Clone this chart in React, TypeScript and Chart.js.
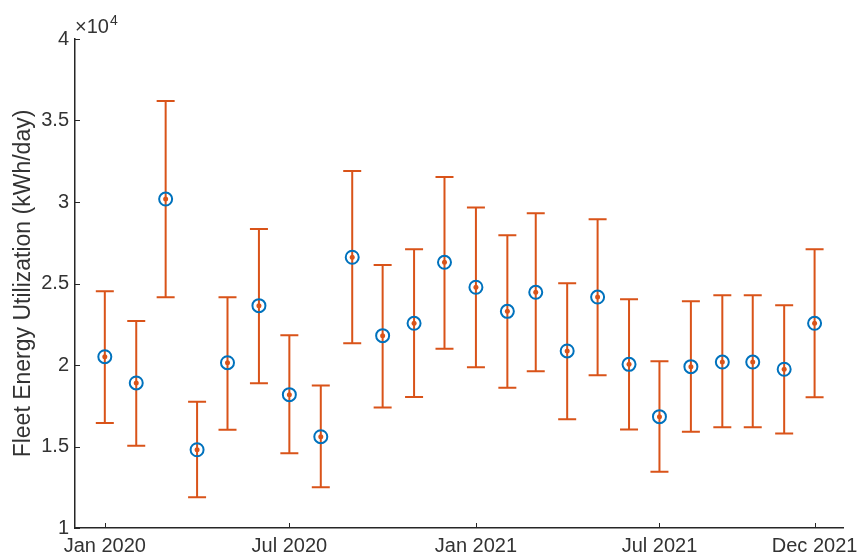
import React, { useEffect, useRef } from "react";
import { Chart, registerables } from "chart.js";

Chart.register(...registerables);

// ---- data ----
const monthDates = [
  "2020-01-01", "2020-02-01", "2020-03-01", "2020-04-01", "2020-05-01", "2020-06-01",
  "2020-07-01", "2020-08-01", "2020-09-01", "2020-10-01", "2020-11-01", "2020-12-01",
  "2021-01-01", "2021-02-01", "2021-03-01", "2021-04-01", "2021-05-01", "2021-06-01",
  "2021-07-01", "2021-08-01", "2021-09-01", "2021-10-01", "2021-11-01", "2021-12-01",
];
const energy = [
  20510, 18900, 30180, 14800, 20140, 23640, 18180, 15600, 26610, 21800, 22560, 26300,
  24770, 23290, 24460, 20860, 24170, 20040, 16830, 19900, 20180, 20180, 19740, 22560,
];
const upper = [
  24520, 22700, 36200, 17750, 24150, 28340, 21820, 18750, 31900, 26130, 27100, 31530,
  29670, 27960, 29310, 25010, 28940, 24030, 20230, 23910, 24280, 24280, 23660, 27100,
];
const lower = [
  16440, 15050, 24150, 11880, 16030, 18880, 14580, 12500, 21330, 17400, 18040, 21000,
  19860, 18610, 19610, 16670, 19370, 16050, 13450, 15910, 16180, 16180, 15790, 18020,
];
const xTickDates = ["2020-01-01", "2020-07-01", "2021-01-01", "2021-07-01", "2021-12-01"];
const xTickLabels = ["Jan 2020", "Jul 2020", "Jan 2021", "Jul 2021", "Dec 2021"];
const yTickValues = [10000, 15000, 20000, 25000, 30000, 35000, 40000];
const yTickLabels = ["1", "1.5", "2", "2.5", "3", "3.5", "4"];
const yTitle = "Fleet Energy Utilization (kWh/day)";

const ORIGIN = Date.UTC(2020, 0, 1);
const toDay = (s: string) => {
  const [y, m, d] = s.split("-").map(Number);
  return (Date.UTC(y, m - 1, d) - ORIGIN) / 864e5;
};

const FONT = '"Liberation Sans", Arial, Helvetica, sans-serif';
const AXIS = "#262626";
const TEXT = "#333333";
const ORANGE = "#D95319";
const BLUE = "#0072BD";

export default function App() {
  const ref = useRef<HTMLCanvasElement>(null);

  useEffect(() => {
    const xs = monthDates.map(toDay);
    const tickDays = xTickDates.map(toDay);

    const errorBars = {
      id: "errorBars",
      beforeDatasetsDraw(chart: any) {
        const { ctx, scales } = chart;
        const xS = scales.x, yS = scales.y;
        ctx.save();
        ctx.strokeStyle = ORANGE;
        ctx.lineWidth = 2;
        for (let i = 0; i < xs.length; i++) {
          const x = xS.getPixelForValue(xs[i]);
          const yt = yS.getPixelForValue(upper[i]);
          const yb = yS.getPixelForValue(lower[i]);
          ctx.beginPath();
          ctx.moveTo(x, yt);
          ctx.lineTo(x, yb);
          ctx.moveTo(x - 9, yt);
          ctx.lineTo(x + 9, yt);
          ctx.moveTo(x - 9, yb);
          ctx.lineTo(x + 9, yb);
          ctx.stroke();
        }
        ctx.restore();
      },
    };

    const axisDecor = {
      id: "axisDecor",
      afterDraw(chart: any) {
        const { ctx, scales, chartArea } = chart;
        ctx.save();
        ctx.strokeStyle = AXIS;
        ctx.lineWidth = 1;
        ctx.beginPath();
        for (const t of tickDays) {
          const x = Math.round(scales.x.getPixelForValue(t)) + 0.5;
          ctx.moveTo(x, chartArea.bottom);
          ctx.lineTo(x, chartArea.bottom - 5);
        }
        for (const v of yTickValues) {
          const y = Math.round(scales.y.getPixelForValue(v)) + 0.5;
          ctx.moveTo(chartArea.left, y);
          ctx.lineTo(chartArea.left + 5, y);
        }
        ctx.stroke();
        // exponent label
        ctx.fillStyle = TEXT;
        ctx.textBaseline = "alphabetic";
        ctx.textAlign = "left";
        ctx.font = `20px ${FONT}`;
        const base = "\u00d710";
        const x0 = chartArea.left;
        ctx.fillText(base, x0, 33);
        const w = ctx.measureText(base).width;
        ctx.font = `14px ${FONT}`;
        ctx.fillText("4", x0 + w + 1, 25);
        ctx.restore();
      },
    };

    const chart = new Chart(ref.current!, {
      type: "scatter",
      data: {
        datasets: [
          {
            data: xs.map((x, i) => ({ x, y: energy[i] })),
            pointStyle: "circle",
            pointRadius: 6.5,
            pointBorderWidth: 2,
            pointBorderColor: BLUE,
            pointBackgroundColor: "rgba(0,0,0,0)",
            showLine: false,
          },
          {
            data: xs.map((x, i) => ({ x, y: energy[i] })),
            pointStyle: "circle",
            pointRadius: 2.5,
            pointBorderWidth: 0,
            pointBackgroundColor: ORANGE,
            pointBorderColor: ORANGE,
            showLine: false,
          },
        ],
      },
      options: {
        responsive: false,
        animation: false,
        devicePixelRatio: 1,
        layout: { padding: { top: 39, right: 16, bottom: 0, left: 0 } },
        plugins: {
          legend: { display: false },
          tooltip: { enabled: false },
        },
        scales: {
          x: {
            type: "linear",
            min: -29.4,
            max: 728.4,
            afterBuildTicks(scale: any) {
              scale.ticks = tickDays.map((v) => ({ value: v }));
            },
            afterFit(scale: any) {
              scale.height = 30;
            },
            ticks: {
              autoSkip: false,
              maxRotation: 0,
              padding: 6,
              color: TEXT,
              font: { family: FONT, size: 20 },
              callback: (v: any) => {
                const i = tickDays.indexOf(Number(v));
                return i >= 0 ? xTickLabels[i] : "";
              },
            },
            grid: { display: false, drawTicks: false },
            border: { display: true, color: AXIS, width: 1.5 },
          },
          y: {
            type: "linear",
            min: 10000,
            max: 40000,
            afterBuildTicks(scale: any) {
              scale.ticks = yTickValues.map((v) => ({ value: v }));
            },
            afterFit(scale: any) {
              scale.width = 75;
            },
            ticks: {
              autoSkip: false,
              padding: 6,
              color: TEXT,
              font: { family: FONT, size: 20 },
              callback: (v: any) => {
                const i = yTickValues.indexOf(Number(v));
                return i >= 0 ? yTickLabels[i] : "";
              },
            },
            title: {
              display: true,
              text: yTitle,
              color: TEXT,
              font: { family: FONT, size: 23 },
              padding: { top: 10, bottom: 0 },
            },
            grid: { display: false, drawTicks: false },
            border: { display: true, color: AXIS, width: 1.5 },
          },
        },
      },
      plugins: [errorBars, axisDecor],
    });
    return () => chart.destroy();
  }, []);

  return (
    <div style={{ position: "absolute", left: 0, top: 0, width: 864, height: 558, background: "#fff" }}>
      <canvas ref={ref} width={864} height={558} style={{ display: "block" }} />
    </div>
  );
}
